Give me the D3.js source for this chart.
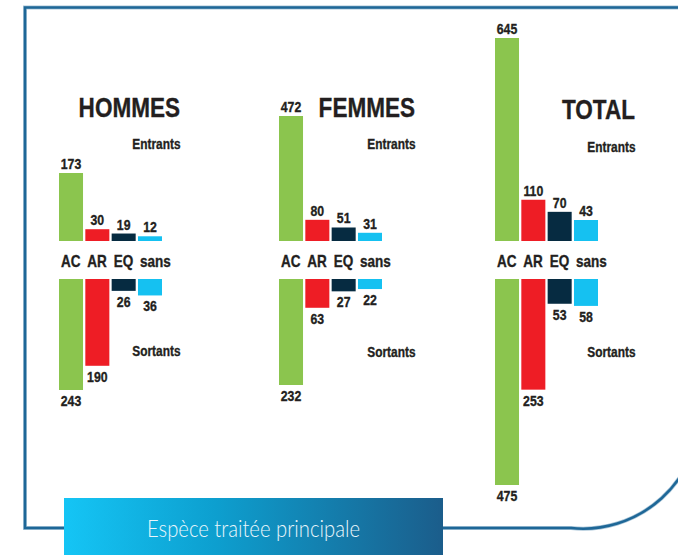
<html>
<meta charset="utf-8">
<head>
<style>
  body { margin: 0; background: #fff; }
  text { font-family: "Liberation Sans", Arial, sans-serif; font-weight: bold; fill: #231f20; }
  text.heavy { stroke: #231f20; stroke-width: 0.35px; }
</style>
</head>
<body>
<!-- Load d3.js -->
<script src="https://d3js.org/d3.v7.min.js"></script>

<div id="my_dataviz"></div>

<script>

    // categories and values
    var categories = ["AC", "AR", "EQ", "sans"]
    var groups = ["HOMMES", "FEMMES", "TOTAL"]

    var hommesEntrants = [173, 30, 19, 12]
    var hommesSortants = [243, 190, 26, 36]
    var femmesEntrants = [472, 80, 51, 31]
    var femmesSortants = [232, 63, 27, 22]
    var totalEntrants  = [645, 110, 70, 43]
    var totalSortants  = [475, 253, 53, 58]

    var entrantsData = [hommesEntrants, femmesEntrants, totalEntrants]
    var sortantsData = [hommesSortants, femmesSortants, totalSortants]

    // layout of each panel (positions in px)
    var panelX = [59, 279, 495]
    var titleRight = [180, 415, 635]
    var titleY = [117, 117, 119]
    var entrantsY = [149, 149, 152]
    var sortantsY = [356, 356.5, 357]
    // bar height ranges, every panel has its own scale in the original
    var entrantsRange = [[0, 68], [0, 125], [8, 203]]
    var sortantsRange = [[0, 111], [0, 106], [2, 206]]

    var baseTop = 241     // bottom of the "Entrants" bars
    var baseBottom = 279  // top of the "Sortants" bars
    var squeeze = 0.82    // fake a condensed font

    var myColor = d3.scaleOrdinal()
      .domain(categories)
      .range(["#8bc54e", "#ee1d25", "#062b41", "#15c1f1"])

    var width = 678,
        height = 555

    var svg = d3.select("#my_dataviz")
      .append("svg")
        .attr("width", width)
        .attr("height", height)

    // put a narrow text at x,y
    function narrow(sel, fx, fy) {
      return sel.attr("class", "heavy")
        .attr("transform", function(d, i) {
          var xx = typeof fx === "function" ? fx(d, i) : fx
          var yy = typeof fy === "function" ? fy(d, i) : fy
          return "translate(" + xx + "," + yy + ") scale(" + squeeze + ",1)"
        })
    }

    // frame, only the bottom right corner is rounded
    var framePath = "M25,7.5 H700 V411 A117,117 0 0,1 571,528 H25 Z"
    svg.append("path")
      .attr("d", framePath)
      .attr("fill", "none")
      .attr("stroke", "#a9c5d8")
      .attr("stroke-width", 4)
    svg.append("path")
      .attr("d", framePath)
      .attr("fill", "none")
      .attr("stroke", "#1e6797")
      .attr("stroke-width", 2.5)

    // x position inside a panel
    var x = d3.scaleBand()
      .domain(categories)
      .range([0, 103])
      .paddingInner(0.0875)

    groups.forEach(function(name, p) {

      var g = svg.append("g")
        .attr("transform", "translate(" + panelX[p] + ",0)")

      var yIn = d3.scaleLinear()
        .domain([0, d3.max(entrantsData[p])])
        .range(entrantsRange[p])
      var yOut = d3.scaleLinear()
        .domain([0, d3.max(sortantsData[p])])
        .range(sortantsRange[p])

      var rows = categories.map(function(c, i) {
        return { cat: c, inV: entrantsData[p][i], outV: sortantsData[p][i] }
      })

      // Entrants bars (going up)
      g.selectAll(".barIn")
        .data(rows)
        .enter()
        .append("rect")
          .attr("x", function(d) { return x(d.cat) })
          .attr("y", function(d) { return baseTop - yIn(d.inV) })
          .attr("width", x.bandwidth())
          .attr("height", function(d) { return yIn(d.inV) })
          .attr("fill", function(d) { return myColor(d.cat) })

      g.selectAll(".lblIn")
        .data(rows)
        .enter()
        .append("text")
          .call(narrow,
            function(d) { return x(d.cat) + x.bandwidth() / 2 },
            function(d) { return baseTop - yIn(d.inV) - 4 })
          .attr("text-anchor", "middle")
          .style("font-size", "15px")
          .text(function(d) { return d.inV })

      // Sortants bars (going down)
      g.selectAll(".barOut")
        .data(rows)
        .enter()
        .append("rect")
          .attr("x", function(d) { return x(d.cat) })
          .attr("y", baseBottom)
          .attr("width", x.bandwidth())
          .attr("height", function(d) { return yOut(d.outV) })
          .attr("fill", function(d) { return myColor(d.cat) })

      g.selectAll(".lblOut")
        .data(rows)
        .enter()
        .append("text")
          .call(narrow,
            function(d) { return x(d.cat) + x.bandwidth() / 2 },
            function(d) { return baseBottom + yOut(d.outV) + 16 })
          .attr("text-anchor", "middle")
          .style("font-size", "15px")
          .text(function(d) { return d.outV })

      // category names between the two rows
      g.selectAll(".cat")
        .data(categories)
        .enter()
        .append("text")
          .call(narrow, function(d) { return x(d) + 2 }, 267)
          .style("font-size", "16.5px")
          .text(function(d) { return d })

      // titles
      svg.append("text")
        .call(narrow, titleRight[p], titleY[p])
        .attr("text-anchor", "end")
        .style("font-size", "27.5px")
        .text(name)
      svg.append("text")
        .call(narrow, titleRight[p] + 0.5, entrantsY[p])
        .attr("text-anchor", "end")
        .style("font-size", "14.5px")
        .text("Entrants")
      svg.append("text")
        .call(narrow, titleRight[p] + 0.5, sortantsY[p])
        .attr("text-anchor", "end")
        .style("font-size", "14.5px")
        .text("Sortants")
    })

    // bottom banner
    var grad = svg.append("defs")
      .append("linearGradient")
        .attr("id", "bannerGrad")
        .attr("x1", "0%").attr("x2", "100%")
        .attr("y1", "0%").attr("y2", "0%")
    grad.append("stop").attr("offset", "0%").attr("stop-color", "#15c5f5")
    grad.append("stop").attr("offset", "40%").attr("stop-color", "#0d9fcf")
    grad.append("stop").attr("offset", "100%").attr("stop-color", "#1b5d8b")

    svg.append("rect")
      .attr("x", 64)
      .attr("y", 498)
      .attr("width", 379)
      .attr("height", 60)
      .attr("fill", "url(#bannerGrad)")

    svg.append("text")
      .attr("x", 147)
      .attr("y", 537)
      .attr("textLength", 213)
      .attr("lengthAdjust", "spacingAndGlyphs")
      .style("font-family", "Lato, 'Open Sans', sans-serif")
      .style("font-weight", 300)
      .style("font-size", "22.5px")
      .style("fill", "#eaf6fc")
      .text("Espèce traitée principale")

</script>
</body>
</html>
